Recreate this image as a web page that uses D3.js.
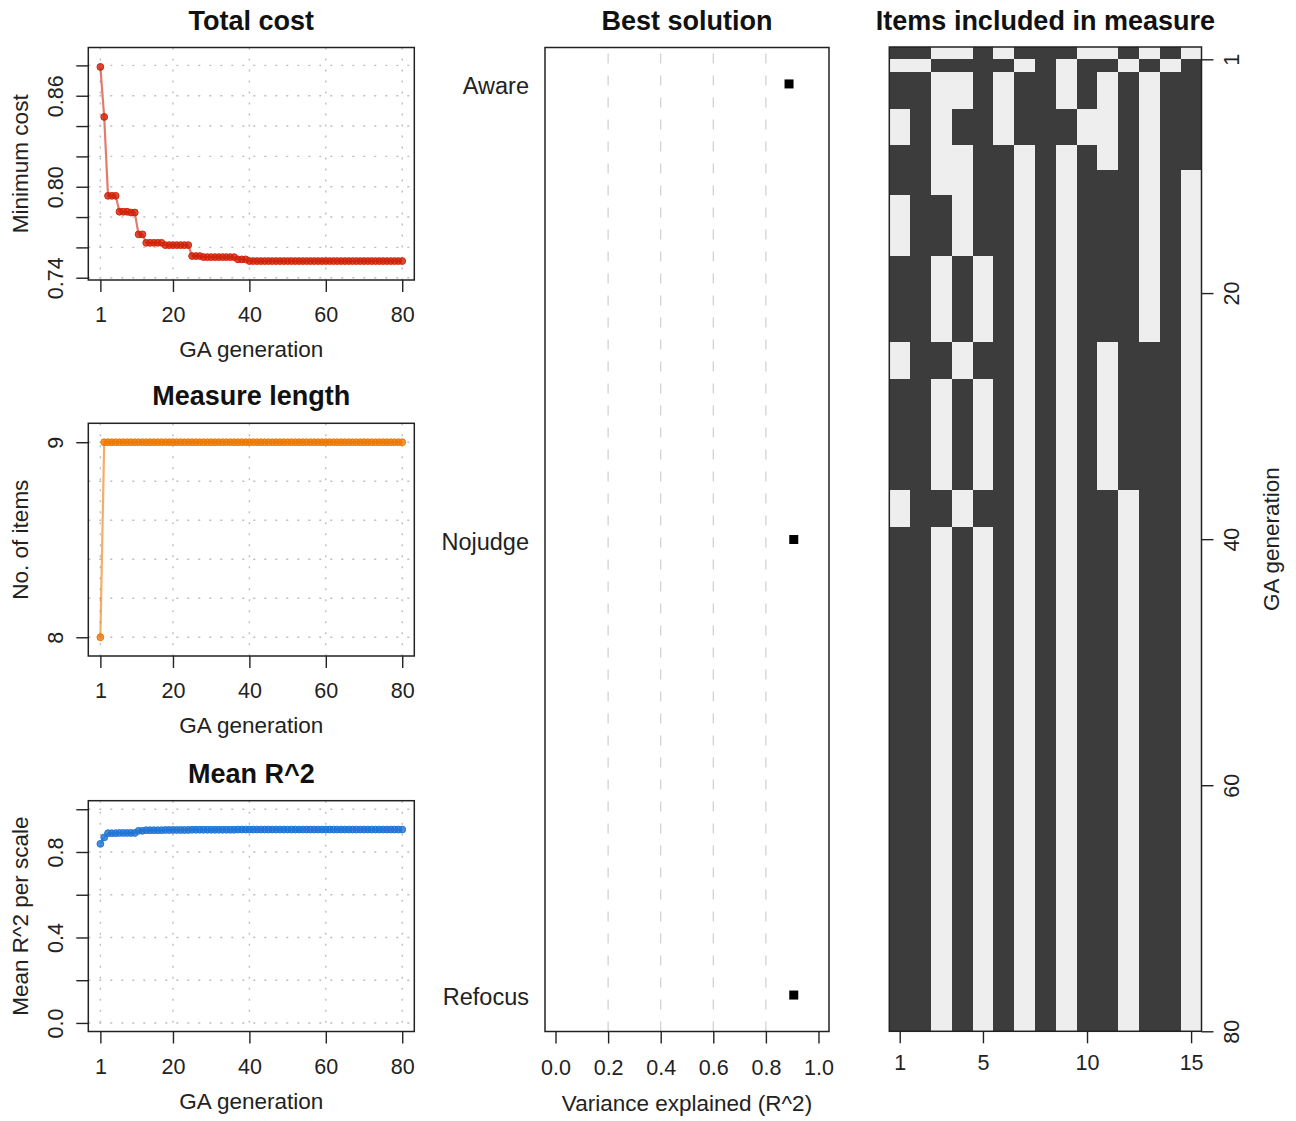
<!DOCTYPE html>
<html>
<head>
<meta charset="utf-8">
<script src="https://cdn.jsdelivr.net/npm/d3@7"></script>
<style>
body { margin: 0; background: #fff; }
svg text { font-family: "Liberation Sans", Arial, Helvetica, sans-serif; }
</style>
</head>
<body>
<svg id="chart" width="1296" height="1121"></svg>
<script>
// GA generation numbers (x of the three small panels, rows of the heatmap)
const generations = [
    1, 2, 3, 4, 5, 6, 7, 8, 9, 10, 11, 12, 13, 14, 15, 16, 17, 18, 19, 20,
    21, 22, 23, 24, 25, 26, 27, 28, 29, 30, 31, 32, 33, 34, 35, 36, 37, 38, 39, 40,
    41, 42, 43, 44, 45, 46, 47, 48, 49, 50, 51, 52, 53, 54, 55, 56, 57, 58, 59, 60,
    61, 62, 63, 64, 65, 66, 67, 68, 69, 70, 71, 72, 73, 74, 75, 76, 77, 78, 79, 80
];

// Minimum cost per generation
const costValues = [
    0.879, 0.846, 0.794, 0.794, 0.794, 0.7835, 0.7835, 0.7835, 0.783, 0.783,
    0.7686, 0.7686, 0.763, 0.763, 0.763, 0.763, 0.763, 0.7615, 0.7615, 0.7615,
    0.7615, 0.7615, 0.7615, 0.7615, 0.7543, 0.7543, 0.7543, 0.7536, 0.7536, 0.7536,
    0.7536, 0.7536, 0.7536, 0.7536, 0.7536, 0.7536, 0.7521, 0.7521, 0.7521, 0.751,
    0.751, 0.751, 0.751, 0.751, 0.751, 0.751, 0.751, 0.751, 0.751, 0.751,
    0.751, 0.751, 0.751, 0.751, 0.751, 0.751, 0.751, 0.751, 0.751, 0.751,
    0.751, 0.751, 0.751, 0.751, 0.751, 0.751, 0.751, 0.751, 0.751, 0.751,
    0.751, 0.751, 0.751, 0.751, 0.751, 0.751, 0.751, 0.751, 0.751, 0.751
];

// Number of items per generation
const lengthValues = [
    8, 9, 9, 9, 9, 9, 9, 9, 9, 9, 9, 9, 9, 9, 9, 9, 9, 9, 9, 9,
    9, 9, 9, 9, 9, 9, 9, 9, 9, 9, 9, 9, 9, 9, 9, 9, 9, 9, 9, 9,
    9, 9, 9, 9, 9, 9, 9, 9, 9, 9, 9, 9, 9, 9, 9, 9, 9, 9, 9, 9,
    9, 9, 9, 9, 9, 9, 9, 9, 9, 9, 9, 9, 9, 9, 9, 9, 9, 9, 9, 9
];

// Mean R^2 per scale per generation
const r2Values = [
    0.838, 0.868, 0.888, 0.888, 0.888, 0.889, 0.889, 0.889, 0.889, 0.889,
    0.899, 0.899, 0.902, 0.902, 0.902, 0.902, 0.902, 0.903, 0.903, 0.903,
    0.903, 0.903, 0.903, 0.903, 0.904, 0.904, 0.904, 0.904, 0.904, 0.904,
    0.904, 0.904, 0.904, 0.904, 0.904, 0.904, 0.905, 0.905, 0.905, 0.905,
    0.905, 0.905, 0.905, 0.905, 0.905, 0.905, 0.905, 0.905, 0.905, 0.905,
    0.905, 0.905, 0.905, 0.905, 0.905, 0.905, 0.905, 0.905, 0.905, 0.905,
    0.905, 0.905, 0.905, 0.905, 0.905, 0.905, 0.905, 0.905, 0.905, 0.905,
    0.905, 0.905, 0.905, 0.905, 0.905, 0.905, 0.905, 0.905, 0.905, 0.905
];

// Best solution
const scales = ["Aware", "Nojudge", "Refocus"];
const scaleR2 = [0.888, 0.906, 0.906];

// Items included (1) per generation, items 1..15
const itemRows = [
    "110010111001010", "001111010110101", "110010110101011", "110010110101011",
    "110010110101011", "010110111001011", "010110111001011", "010110111001011",
    "110011010101011", "110011010101011", "110011010111010", "110011010111010",
    "011011010111010", "011011010111010", "011011010111010", "011011010111010",
    "011011010111010", "110101010111010", "110101010111010", "110101010111010",
    "110101010111010", "110101010111010", "110101010111010", "110101010111010",
    "011011010101110", "011011010101110", "011011010101110", "110101010101110",
    "110101010101110", "110101010101110", "110101010101110", "110101010101110",
    "110101010101110", "110101010101110", "110101010101110", "110101010101110",
    "011011010110110", "011011010110110", "011011010110110", "110101010110110",
    "110101010110110", "110101010110110", "110101010110110", "110101010110110",
    "110101010110110", "110101010110110", "110101010110110", "110101010110110",
    "110101010110110", "110101010110110", "110101010110110", "110101010110110",
    "110101010110110", "110101010110110", "110101010110110", "110101010110110",
    "110101010110110", "110101010110110", "110101010110110", "110101010110110",
    "110101010110110", "110101010110110", "110101010110110", "110101010110110",
    "110101010110110", "110101010110110", "110101010110110", "110101010110110",
    "110101010110110", "110101010110110", "110101010110110", "110101010110110",
    "110101010110110", "110101010110110", "110101010110110", "110101010110110",
    "110101010110110", "110101010110110", "110101010110110", "110101010110110"
];

// Ticks and tick labels
const genTicks = [1, 20, 40, 60, 80];
const costTicks = [0.74, 0.76, 0.78, 0.80, 0.82, 0.84, 0.86, 0.88];
const costTickLabels = ["0.74", "", "", "0.80", "", "", "0.86", ""];
const lengthTicks = [8, 9];
const lengthTickLabels = ["8", "9"];
const lengthGrid = [8, 8.2, 8.4, 8.6, 8.8, 9];
const r2Ticks = [0, 0.2, 0.4, 0.6, 0.8, 1.0];
const r2TickLabels = ["0.0", "", "0.4", "", "0.8", ""];
const varTicks = [0, 0.2, 0.4, 0.6, 0.8, 1.0];
const varTickLabels = ["0.0", "0.2", "0.4", "0.6", "0.8", "1.0"];
const varGrid = [0.2, 0.4, 0.6, 0.8];
const itemTicks = [1, 5, 10, 15];
const rowTicks = [1, 20, 40, 60, 80];

const svg = d3.select("#chart");
svg.append("rect").attr("width", 1296).attr("height", 1121).attr("fill", "#fff");

const tickFs = 21.5, labFs = 22.5, titleFs = 27;

// Common axis styling, R look
function styleAxis(g) {
    g.attr("font-family", null).attr("font-size", null);
    g.select(".domain").remove();
    g.selectAll(".tick line").attr("stroke", "#222").attr("stroke-width", 1.4);
    g.selectAll(".tick text").attr("fill", "#222").style("font-size", tickFs + "px");
}

function bottomAxis(g, scale, ticks, labels, base) {
    g.call(d3.axisBottom(scale).tickValues(ticks).tickSize(12)
        .tickFormat((d, i) => labels[i]));
    styleAxis(g);
    g.selectAll(".tick text").attr("y", base).attr("dy", null);
}

function leftAxisRot(g, scale, ticks, labels) {
    g.call(d3.axisLeft(scale).tickValues(ticks).tickSize(12)
        .tickFormat((d, i) => labels[i]));
    styleAxis(g);
    g.selectAll(".tick text")
        .attr("x", 0).attr("y", 0).attr("dy", null)
        .attr("text-anchor", "middle")
        .attr("transform", "translate(-25,0) rotate(-90)");
}

function title(x, y, txt) {
    svg.append("text").attr("x", x).attr("y", y).attr("text-anchor", "middle")
        .attr("font-weight", "bold").style("font-size", titleFs + "px")
        .attr("fill", "#111").text(txt);
}

function xLabel(x, y, txt) {
    svg.append("text").attr("x", x).attr("y", y).attr("text-anchor", "middle")
        .style("font-size", labFs + "px").attr("fill", "#222").text(txt);
}

function yLabel(x, y, txt) {
    svg.append("text").attr("transform", `translate(${x},${y}) rotate(-90)`)
        .attr("text-anchor", "middle")
        .style("font-size", labFs + "px").attr("fill", "#222").text(txt);
}

// Left column: three small line panels
const panelLeft = 88.3, panelRight = 414.3;
const genX = d3.scaleLinear().domain([-2.16, 83.16]).range([panelLeft, panelRight]);

function linePanel(o) {
    let y = d3.scaleLinear().domain(o.domain).range([o.bottom, o.top]);
    let g = svg.append("g");

    // dotted grid
    g.selectAll(".gv").data(genTicks).join("line")
        .attr("x1", d => genX(d)).attr("x2", d => genX(d))
        .attr("y1", o.top).attr("y2", o.bottom)
        .attr("stroke", "#bdbdbd").attr("stroke-width", 1.4)
        .attr("stroke-dasharray", "2,9");
    g.selectAll(".gh").data(o.grid).join("line")
        .attr("x1", panelLeft).attr("x2", panelRight)
        .attr("y1", d => y(d)).attr("y2", d => y(d))
        .attr("stroke", "#bdbdbd").attr("stroke-width", 1.4)
        .attr("stroke-dasharray", "2,9");

    // line and points
    let data = generations.map((gen, i) => ({ gen: gen, v: o.values[i] }));
    let line = d3.line().x(d => genX(d.gen)).y(d => y(d.v));
    g.append("path").datum(data)
        .attr("fill", "none").attr("stroke", o.color)
        .attr("stroke-opacity", 0.6).attr("stroke-width", 2.2)
        .attr("d", line);
    g.selectAll(".pt").data(data).join("circle")
        .attr("cx", d => genX(d.gen)).attr("cy", d => y(d.v)).attr("r", 3.4)
        .attr("fill", o.color).attr("fill-opacity", 0.8)
        .attr("stroke", o.color).attr("stroke-width", 1);

    // box
    g.append("rect").attr("x", panelLeft).attr("y", o.top)
        .attr("width", panelRight - panelLeft).attr("height", o.bottom - o.top)
        .attr("fill", "none").attr("stroke", "#222").attr("stroke-width", 1.5);

    bottomAxis(g.append("g").attr("transform", `translate(0,${o.bottom})`),
        genX, genTicks, genTicks.map(String), 42);
    leftAxisRot(g.append("g").attr("transform", `translate(${panelLeft},0)`),
        y, o.ticks, o.labels);

    let cx = (panelLeft + panelRight) / 2;
    title(cx, o.top - 18, o.title);
    xLabel(cx, o.bottom + 77, "GA generation");
    yLabel(28, (o.top + o.bottom) / 2, o.ylab);
}

linePanel({
    top: 47.5, bottom: 280, domain: [0.7385, 0.8918],
    ticks: costTicks, labels: costTickLabels, grid: costTicks,
    values: costValues, color: "#d0230a",
    title: "Total cost", ylab: "Minimum cost"
});
linePanel({
    top: 423.3, bottom: 656, domain: [7.904, 9.097],
    ticks: lengthTicks, labels: lengthTickLabels, grid: lengthGrid,
    values: lengthValues, color: "#f07800",
    title: "Measure length", ylab: "No. of items"
});
linePanel({
    top: 800.7, bottom: 1031.5, domain: [-0.04, 1.04],
    ticks: r2Ticks, labels: r2TickLabels, grid: r2Ticks,
    values: r2Values, color: "#1f74d4",
    title: "Mean R^2", ylab: "Mean R^2 per scale"
});

// Middle: best solution
const bsLeft = 545, bsRight = 829, bsTop = 47.5, bsBottom = 1031.5;
const varX = d3.scaleLinear().domain([-0.04, 1.04]).range([bsLeft, bsRight]);
const catY = d3.scaleLinear().domain([0.92, 3.08]).range([bsTop, bsBottom]);
const bs = svg.append("g");

bs.selectAll(".vg").data(varGrid).join("line")
    .attr("x1", d => varX(d)).attr("x2", d => varX(d))
    .attr("y1", bsBottom).attr("y2", bsTop)
    .attr("stroke", "#cfcfcf").attr("stroke-width", 1.2)
    .attr("stroke-dasharray", "10,12");

bs.selectAll(".sq").data(scales).join("rect")
    .attr("x", (d, i) => varX(scaleR2[i]) - 4.5)
    .attr("y", (d, i) => catY(i + 1) - 4.5)
    .attr("width", 9).attr("height", 9).attr("fill", "#000");

bs.append("rect").attr("x", bsLeft).attr("y", bsTop)
    .attr("width", bsRight - bsLeft).attr("height", bsBottom - bsTop)
    .attr("fill", "none").attr("stroke", "#222").attr("stroke-width", 1.5);

bottomAxis(bs.append("g").attr("transform", `translate(0,${bsBottom})`),
    varX, varTicks, varTickLabels, 43);

let catAxis = bs.append("g").attr("transform", `translate(${bsLeft},0)`);
catAxis.call(d3.axisLeft(catY).tickValues([1, 2, 3]).tickSize(0).tickPadding(16)
    .tickFormat((d, i) => scales[i]));
styleAxis(catAxis);
catAxis.selectAll(".tick text").attr("dy", null).attr("y", 9.5).style("font-size", "23.5px");

title((bsLeft + bsRight) / 2, 30, "Best solution");
xLabel((bsLeft + bsRight) / 2, 1111, "Variance explained (R^2)");

// Right: heatmap of included items
const hmLeft = 889.3, hmRight = 1201.5, hmTop = 47, hmBottom = 1031.3;
const itemX = d3.scaleLinear().domain([0.5, 15.5]).range([hmLeft, hmRight]);
const genY = d3.scaleLinear().domain([0, 80]).range([hmTop, hmBottom]);
const hm = svg.append("g");

let cells = [];
itemRows.forEach((row, r) => {
    row.split("").forEach((v, c) => cells.push({ gen: generations[r], item: c + 1, on: v === "1" }));
});

hm.append("g").attr("shape-rendering", "crispEdges")
    .selectAll("rect").data(cells).join("rect")
    .attr("x", d => itemX(d.item - 0.5))
    .attr("y", d => genY(d.gen - 1))
    .attr("width", d => itemX(d.item + 0.5) - itemX(d.item - 0.5))
    .attr("height", d => genY(d.gen) - genY(d.gen - 1))
    .attr("fill", d => d.on ? "#3c3c3c" : "#eeeeee");

hm.append("rect").attr("x", hmLeft).attr("y", hmTop)
    .attr("width", hmRight - hmLeft).attr("height", hmBottom - hmTop)
    .attr("fill", "none").attr("stroke", "#222").attr("stroke-width", 1.5);

bottomAxis(hm.append("g").attr("transform", `translate(0,${hmBottom})`),
    itemX, itemTicks, itemTicks.map(String), 39);

let rAxis = hm.append("g").attr("transform", `translate(${hmRight},0)`);
rAxis.call(d3.axisRight(genY).tickValues(rowTicks).tickSize(12));
styleAxis(rAxis);
rAxis.selectAll(".tick text")
    .attr("x", 0).attr("y", 0).attr("dy", null)
    .attr("text-anchor", "middle")
    .attr("transform", "translate(37,0) rotate(-90)");

title((hmLeft + hmRight) / 2, 30, "Items included in measure");
yLabel(1279, (hmTop + hmBottom) / 2, "GA generation");
</script>
</body>
</html>
